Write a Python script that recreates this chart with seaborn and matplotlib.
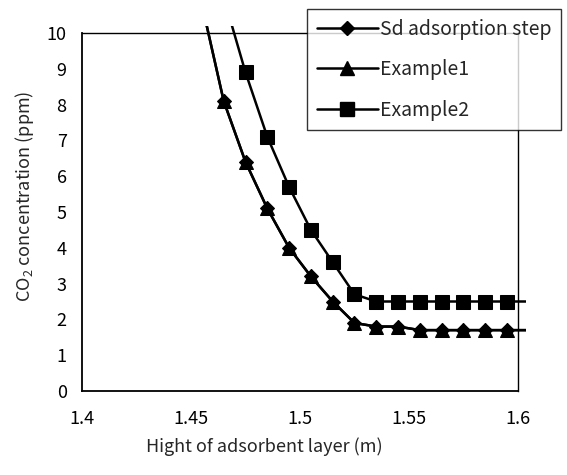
import numpy as np
import pandas as pd
import matplotlib
matplotlib.use("Agg")
import matplotlib.pyplot as plt
from matplotlib.lines import Line2D
from matplotlib.patches import Rectangle
import seaborn as sns

# ---- data ----
x_sd = [1.455, 1.465, 1.475, 1.485, 1.495, 1.505, 1.515, 1.525,
        1.535, 1.545, 1.555, 1.565, 1.575, 1.585, 1.595, 1.605]
y_sd = [10.8, 8.1, 6.4, 5.1, 4.0, 3.2, 2.5, 1.9,
        1.8, 1.8, 1.7, 1.7, 1.7, 1.7, 1.7, 1.7]
x_ex1 = x_sd
y_ex1 = [10.8, 8.1, 6.4, 5.1, 4.0, 3.2, 2.5, 1.9,
         1.8, 1.8, 1.7, 1.7, 1.7, 1.7, 1.7, 1.7]
x_ex2 = [1.465, 1.475, 1.485, 1.495, 1.505, 1.515, 1.525,
         1.535, 1.545, 1.555, 1.565, 1.575, 1.585, 1.595, 1.605]
y_ex2 = [11.0, 8.9, 7.1, 5.7, 4.5, 3.6, 2.7,
         2.5, 2.5, 2.5, 2.5, 2.5, 2.5, 2.5, 2.5]

series_names = ["Sd adsorption step", "Example1", "Example2"]
x_ticks = [1.4, 1.45, 1.5, 1.55, 1.6]
x_tick_labels = ["1.4", "1.45", "1.5", "1.55", "1.6"]
y_ticks = list(range(0, 11))

sns.set_style("white")
plt.rcParams['font.family'] = ['Noto Sans CJK JP', 'DejaVu Sans']
plt.rcParams['mathtext.default'] = 'regular'
plt.rcParams['axes.unicode_minus'] = False

FS = 13

fig = plt.figure(figsize=(5.67, 4.75), dpi=100)
L, R, T, B = 82, 518, 33, 391
ax = fig.add_axes([L/567, 1-B/475, (R-L)/567, (B-T)/475])

markers = ["D", "^", "s"]
msizes = [7.5, 10.5, 10]
data = [(x_sd, y_sd), (x_ex1, y_ex1), (x_ex2, y_ex2)]

clip_rect = Rectangle((0, 0), 1.018, 1.02, transform=ax.transAxes,
                      facecolor='none', edgecolor='none')
ax.add_patch(clip_rect)

for (xs, ys), name, mk, ms in zip(data, series_names, markers, msizes):
    df = pd.DataFrame({"x": xs, "y": ys})
    n_before = len(ax.lines)
    sns.lineplot(data=df, x="x", y="y", ax=ax, color="black", linewidth=1.8,
                 sort=False, estimator=None, legend=False)
    for ln in ax.lines[n_before:]:
        ln.set_clip_path(clip_rect)
    sns.lineplot(data=df, x="x", y="y", ax=ax, color="black", linewidth=0,
                 marker=mk, markersize=ms, markeredgecolor="black",
                 sort=False, estimator=None, legend=False)

ax.set_xlim(1.4, 1.6)
ax.set_ylim(0, 10)
ax.set_xticks(x_ticks)
ax.set_xticklabels(x_tick_labels)
ax.set_yticks(y_ticks)
ax.tick_params(axis='both', direction='in', length=5, width=1, colors='black',
               labelsize=FS)
ax.tick_params(axis='y', pad=11)
ax.tick_params(axis='x', pad=14)
for sp in ax.spines.values():
    sp.set_color('black')
    sp.set_linewidth(1.0)
ax.spines['left'].set_linewidth(1.3)
ax.spines['bottom'].set_linewidth(1.3)

ax.set_xlabel("Hight of adsorbent layer (m)", fontsize=FS)
ax.set_ylabel("CO$_2$ concentration (ppm)", fontsize=FS)
# label positions (axes fraction) as in the reference
ax.xaxis.set_label_coords((264 - L) / (R - L), -(447 - B) / (B - T),
                          transform=ax.transAxes)
ax.xaxis.label.set_verticalalignment('center')
ax.yaxis.set_label_coords(-(L - 25) / (R - L), (B - 196) / (B - T),
                          transform=ax.transAxes)
ax.yaxis.label.set_verticalalignment('center')

handles = [Line2D([0], [0], color='black', linewidth=1.8, marker=mk,
                  markersize=ms, markeredgecolor='black')
           for mk, ms in zip(markers, msizes)]
leg = fig.legend(handles, series_names, loc='upper left',
                 bbox_to_anchor=(307/567, 1-9/475), fontsize=14,
                 frameon=True, fancybox=False, edgecolor='black',
                 handlelength=3.15, handletextpad=0.1, labelspacing=1.0,
                 borderpad=0.5, borderaxespad=0)
leg.get_frame().set_linewidth(1.0)

fig.savefig("out.png", dpi=100)
